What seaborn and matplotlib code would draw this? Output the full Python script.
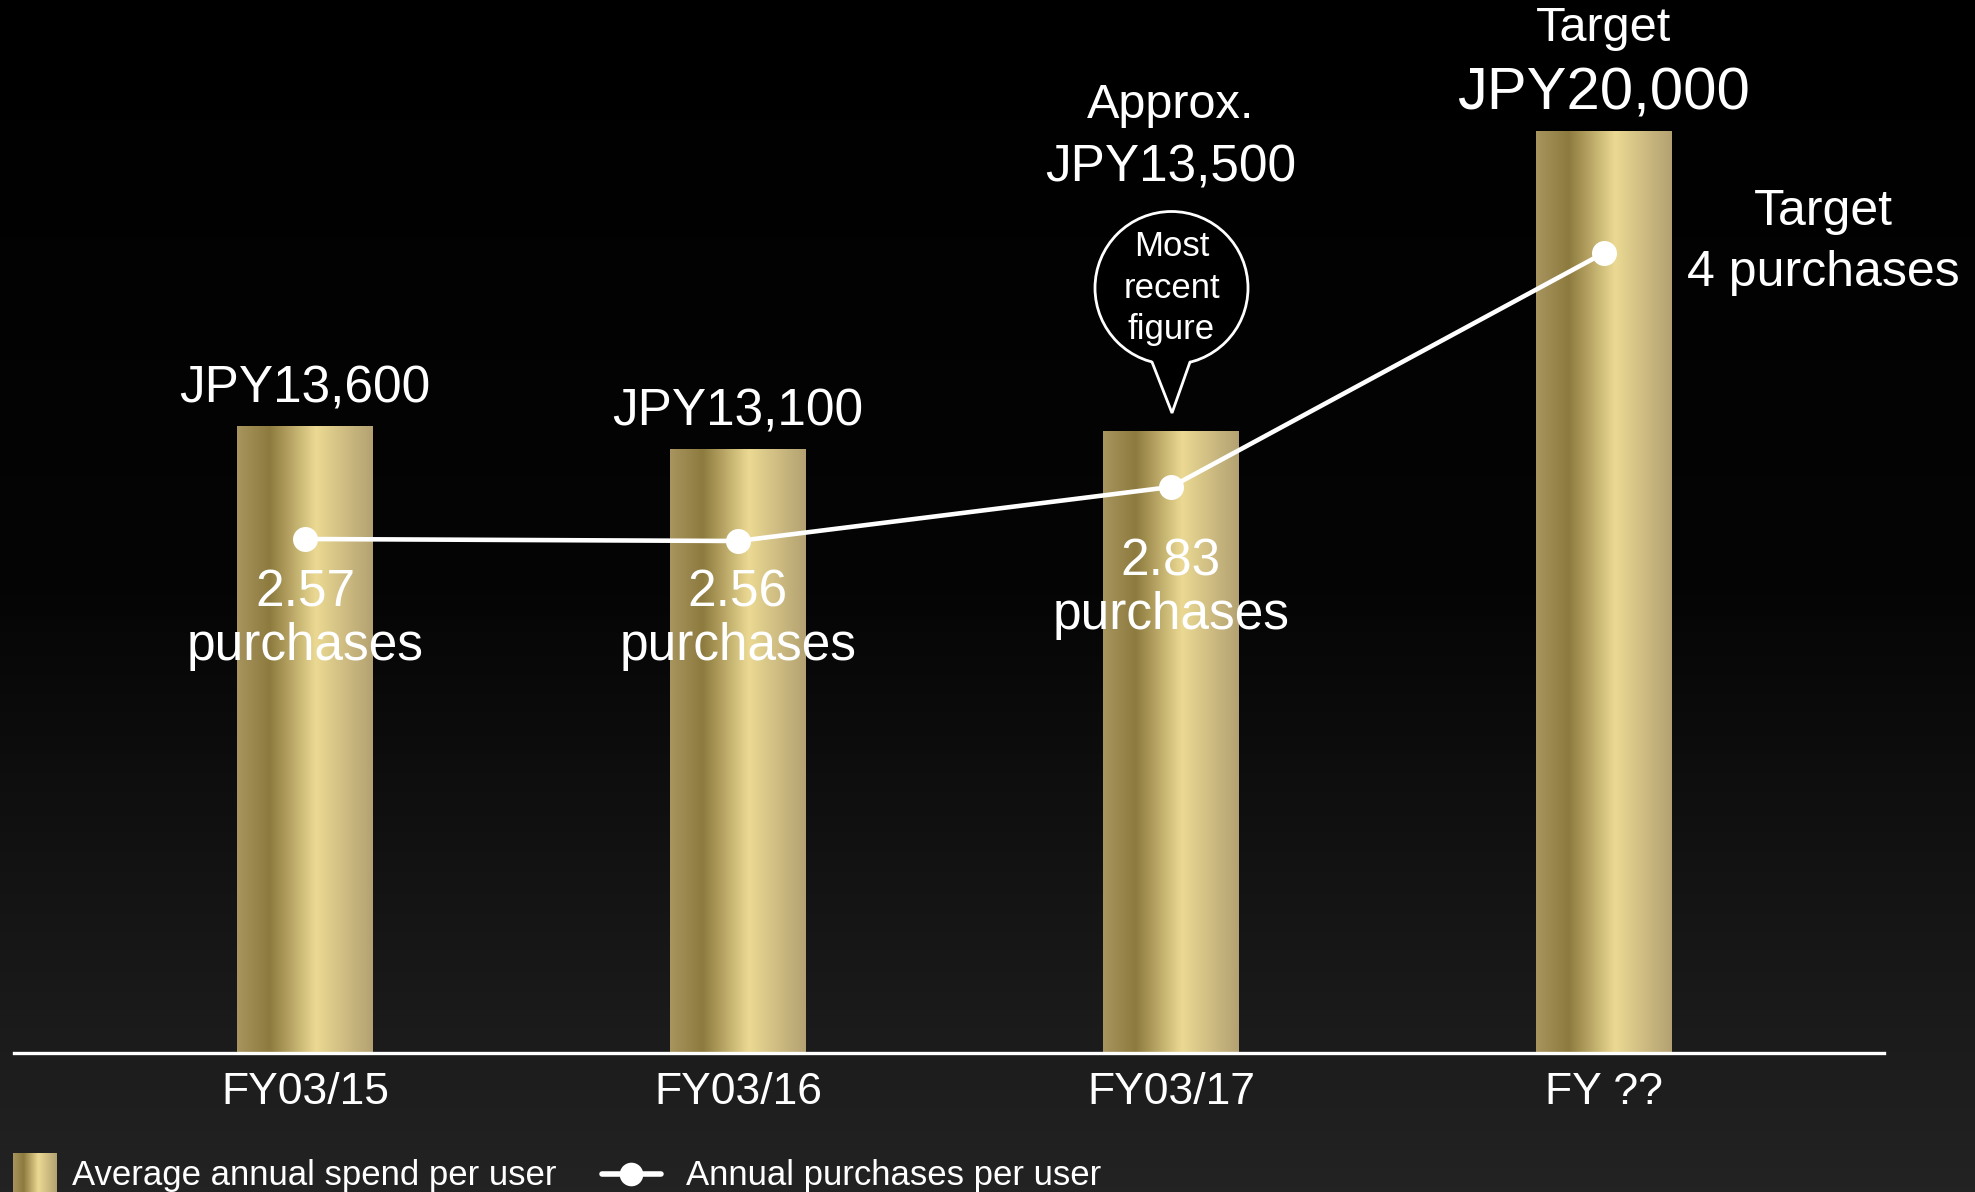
import numpy as np
import pandas as pd
import matplotlib
matplotlib.use("Agg")
import matplotlib.pyplot as plt
from matplotlib.colors import LinearSegmentedColormap
from matplotlib.patches import Circle, Polygon
from matplotlib.lines import Line2D
import seaborn as sns

# ---------------- data ----------------
categories = ["FY03/15", "FY03/16", "FY03/17", "FY ??"]
spend = [13600, 13100, 13500, 20000]
spend_labels = ["JPY13,600", "JPY13,100", "JPY13,500", "JPY20,000"]
purchases = [2.57, 2.56, 2.83, 4.0]
purchase_labels = ["2.57", "2.56", "2.83"]
legend_labels = ["Average annual spend per user", "Annual purchases per user"]

# ---------------- style ----------------
sns.set_theme(style="dark")
plt.rcParams["font.family"] = ["Liberation Sans", "DejaVu Sans"]
W, H = 1975, 1192
fig = plt.figure(figsize=(W / 100, H / 100), dpi=100)

# background vertical gradient
bg = fig.add_axes([0, 0, 1, 1], zorder=-10)
grad = np.linspace(0, 1, 256).reshape(-1, 1)
bg_cmap = LinearSegmentedColormap.from_list("bg", ["#000000", "#050505", "#232323"])
bg.imshow(grad, aspect="auto", cmap=bg_cmap, extent=[0, 1, 0, 1], origin="upper")
bg.set_axis_off()

# main axes
ax1 = fig.add_axes([14 / W, 139 / H, (1884 - 14) / W, 1053 / H])
ax1.set_facecolor("none")
df = pd.DataFrame({"cat": categories, "spend": spend})
sns.barplot(data=df, x="cat", y="spend", ax=ax1, width=0.314, color="#c8b478",
            saturation=1, edgecolor="none")
px_per_unit = 922 / 20000
XLIM = (-0.672, 3.647)
YLIM = (0, 1053 / px_per_unit)

# gold gradient fill for each bar
gold = LinearSegmentedColormap.from_list(
    "gold", [(0.0, "#a8955f"), (0.24, "#8d7a3e"), (0.58, "#ebd993"), (1.0, "#b3a172")])
hgrad = np.linspace(0, 1, 256).reshape(1, -1)
for p in list(ax1.patches):
    x0, y0 = p.get_x(), p.get_y()
    w, h = p.get_width(), p.get_height()
    im = ax1.imshow(hgrad, aspect="auto", cmap=gold, extent=[x0, x0 + w, y0, y0 + h],
                    zorder=2)
    im.set_clip_path(p)
    p.set_alpha(0)
ax1.set_xlim(*XLIM)
ax1.set_ylim(*YLIM)

for s in ["top", "right", "left"]:
    ax1.spines[s].set_visible(False)
ax1.spines["bottom"].set_color("white")
ax1.spines["bottom"].set_linewidth(2.4)
ax1.spines["bottom"].set_zorder(5)
ax1.set_xlabel("")
ax1.set_ylabel("")
ax1.set_yticks([])
ax1.tick_params(axis="x", length=0, pad=14, labelsize=32, labelcolor="white")
ax1.grid(False)

# spend labels (offsets in points above each bar top)
spend_offsets = [37, 37, 263, 37]
for i, (v, lab) in enumerate(zip(spend, spend_labels)):
    fs = 43 if i == 3 else 37
    ax1.annotate(lab, (i, v), xytext=(0, spend_offsets[i] * 0.72), textcoords="offset points",
                 ha="center", va="center", color="white", fontsize=fs, zorder=6)
ax1.annotate("Approx.", (2, spend[2]), xytext=(0, (431 - 106) * 0.72), textcoords="offset points",
             ha="center", va="center", color="white", fontsize=35)
ax1.annotate("Target", (3, spend[3]), xytext=(0, (131 - 29) * 0.72), textcoords="offset points",
             ha="center", va="center", color="white", fontsize=35)

# purchases line on twin axis
ax2 = ax1.twinx()
ax2.set_ylim(0, 1053 / 200)
sns.lineplot(x=np.arange(len(categories)), y=purchases, ax=ax2, color="white",
             linewidth=3.3, marker="o", markersize=18, markeredgewidth=0, zorder=6)
ax2.set_xlim(*XLIM)
ax2.set_yticks([])
for s in ax2.spines.values():
    s.set_visible(False)
ax2.grid(False)

label_y = [2.30, 2.30, 2.455]
for i, lab in enumerate(purchase_labels):
    ax2.text(i, label_y[i], lab, ha="center", va="center", color="white", fontsize=37, zorder=7)
    ax2.text(i, label_y[i] - 0.268, "purchases", ha="center", va="center", color="white",
             fontsize=37, zorder=7)
ax2.text(3.506, 4.205, "Target", ha="center", va="center", color="white", fontsize=36)
ax2.text(3.506, 3.90, "4 purchases", ha="center", va="center", color="white", fontsize=36)

# overlay in pixel coordinates for callout bubble and legend
ov = fig.add_axes([0, 0, 1, 1], zorder=20)
ov.set_xlim(0, W)
ov.set_ylim(H, 0)
ov.set_facecolor("none")
ov.set_axis_off()

cx, cy, r = 1171.5, 288, 76.5
ov.add_patch(Circle((cx, cy), r, facecolor="black", edgecolor="white", lw=2))
ov.add_patch(Polygon([(1152, 350), (1152, 362), (1172, 413), (1190, 362), (1190, 350)],
                     closed=True, facecolor="black", edgecolor="none"))
ov.plot([1152, 1172, 1190], [362, 413, 362], color="white", lw=2, solid_joinstyle="miter")
ov.text(cx, 247, "Most", ha="center", va="center", color="white", fontsize=25)
ov.text(cx, 288, "recent", ha="center", va="center", color="white", fontsize=25)
ov.text(cx, 329, "figure", ha="center", va="center", color="white", fontsize=25)

# legend
lg = fig.add_axes([13 / W, 0, 44 / W, (H - 1153) / H], zorder=21)
lg.imshow(hgrad, aspect="auto", cmap=gold, extent=[0, 1, 0, 1])
lg.set_axis_off()
ov.text(72, 1176, legend_labels[0], ha="left", va="center", color="white", fontsize=25)
ov.add_line(Line2D([602, 661], [1174, 1174], color="white", lw=4))
ov.plot([631], [1174], marker="o", markersize=17, color="white", markeredgewidth=0)
ov.text(686, 1176, legend_labels[1], ha="left", va="center", color="white", fontsize=25)

fig.savefig("out.png", dpi=100)
